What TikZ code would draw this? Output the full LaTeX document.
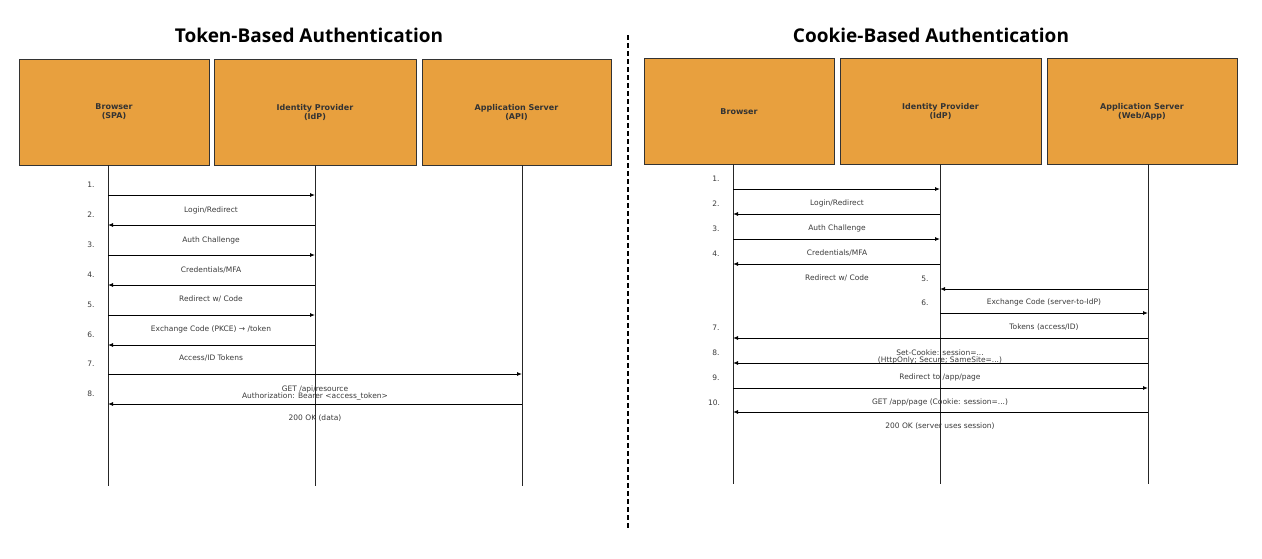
\documentclass[tikz,border=0pt]{standalone}
\usepackage{fontspec}
\setmainfont{DejaVu Sans}
\newfontfamily\titlefont{Open Sans}
\usetikzlibrary{arrows.meta}
\definecolor{box}{HTML}{E8A03E}
\definecolor{txt}{HTML}{3A3A3A}
\tikzset{
 actor/.style={draw=black!80,line width=0.8pt,fill=box,minimum width=190pt,minimum height=106pt,inner sep=0pt,align=center,font=\fontsize{8}{9}\selectfont\bfseries,text=black!80},
 life/.style={line width=0.7pt,black!85},
 msg/.style={line width=0.9pt,-{Latex[length=5pt,width=4pt]}},
 lbl/.style={font=\fontsize{7.5}{8}\selectfont,text=txt,inner sep=0pt,align=center},
 ttl/.style={font=\titlefont\fontsize{19}{22}\selectfont\bfseries}
}
\begin{document}
\begin{tikzpicture}[x=1pt,y=-1pt]
\useasboundingbox (0,0) rectangle (1262,558);
\node[ttl] (t1) at (309,35) {Token-Based Authentication};
\node[ttl] (t2) at (931,35) {Cookie-Based Authentication};
\coordinate (d1) at (628,35); \coordinate (d2) at (628,528);
\draw[dashed,line width=1.2pt,dash pattern=on 5pt off 3pt] (d1) -- (d2);
% left
\node[actor,minimum width=190pt] (lb) at (114,112) {Browser\\(SPA)};
\node[actor,minimum width=202pt] (li) at (315,112) {Identity Provider\\(IdP)};
\node[actor,minimum width=189pt] (la) at (516.5,112) {Application Server\\(API)};
\coordinate (lbe) at (108,486); \coordinate (lie) at (315,486); \coordinate (lae) at (522,486);
\coordinate (lbs) at (108,165); \coordinate (lis) at (315,165); \coordinate (las) at (522,165);
\draw[life] (lbs)--(lbe); \draw[life] (lis)--(lie); \draw[life] (las)--(lae);
\foreach \i/\y/\d in {1/195/r,2/225/l,3/255/r,4/285/l,5/315/r,6/345/l}{
 \node[lbl] (ln\i) at (91,\y-10) {\i.};
 \coordinate (la\i) at (108,\y); \coordinate (lc\i) at (315,\y);
 \if r\d \draw[msg] (la\i) -- (lc\i); \else \draw[msg] (lc\i) -- (la\i); \fi
}
\node[lbl] (ln7) at (91,364) {7.}; \node[lbl] (ln8) at (91,394) {8.};
\coordinate (l7a) at (108,374); \coordinate (l7b) at (522,374); \draw[msg] (l7a) -- (l7b);
\coordinate (l8a) at (108,404); \coordinate (l8b) at (522,404); \draw[msg] (l8b) -- (l8a);
\node[lbl] (ll2) at (211,210) {Login/Redirect};
\node[lbl] (ll3) at (211,240) {Auth Challenge};
\node[lbl] (ll4) at (211,270) {Credentials/MFA};
\node[lbl] (ll5) at (211,299) {Redirect w/ Code};
\node[lbl] (ll6) at (211,329) {Exchange Code (PKCE) → /token};
\node[lbl] (ll7) at (211,358) {Access/ID Tokens};
\node[lbl] (ll8) at (315,393) {GET /api/resource\\[-1pt]Authorization: Bearer <access\_token>};
\node[lbl] (ll9) at (315,418) {200 OK (data)};
% right
\node[actor,minimum width=190pt] (rb) at (739,111.5) {Browser};
\node[actor,minimum width=201pt] (ri) at (940.5,111.5) {Identity Provider\\(IdP)};
\node[actor,minimum width=190pt] (ra) at (1142,111.5) {Application Server\\(Web/App)};
\coordinate (rbs) at (733,164); \coordinate (ris) at (940,164); \coordinate (ras) at (1148,164);
\coordinate (rbe) at (733,484); \coordinate (rie) at (940,484); \coordinate (rae) at (1148,484);
\draw[life] (rbs)--(rbe); \draw[life] (ris)--(rie); \draw[life] (ras)--(rae);
\foreach \i/\y/\d in {1/189/r,2/214/l,3/239/r,4/264/l}{
 \node[lbl] (rn\i) at (716,\y-10) {\i.};
 \coordinate (ra\i) at (733,\y); \coordinate (rc\i) at (940,\y);
 \if r\d \draw[msg] (ra\i) -- (rc\i); \else \draw[msg] (rc\i) -- (ra\i); \fi
}
\node[lbl] (rl2) at (837,203) {Login/Redirect};
\node[lbl] (rl3) at (837,228) {Auth Challenge};
\node[lbl] (rl4) at (837,253) {Credentials/MFA};
\node[lbl] (rl5) at (837,278) {Redirect w/ Code};
\node[lbl] (rn5) at (925,279) {5.};
\coordinate (r5a) at (1148,289); \coordinate (r5b) at (940,289); \draw[msg] (r5a) -- (r5b);
\node[lbl] (rn6) at (925,303) {6.};
\node[lbl] (rl6) at (1044,302) {Exchange Code (server-to-IdP)};
\coordinate (r6a) at (940,313); \coordinate (r6b) at (1148,313); \draw[msg] (r6a) -- (r6b);
\node[lbl] (rn7) at (716,328) {7.};
\node[lbl] (rl7) at (1044,327) {Tokens (access/ID)};
\coordinate (r7a) at (1148,338); \coordinate (r7b) at (733,338); \draw[msg] (r7a) -- (r7b);
\node[lbl] (rn8) at (716,353) {8.};
\node[lbl] (rl8) at (940,357) {Set-Cookie: session=...\\[-1pt](HttpOnly; Secure; SameSite=...)};
\coordinate (r8a) at (1148,363); \coordinate (r8b) at (733,363); \draw[msg] (r8a) -- (r8b);
\node[lbl] (rn9) at (716,378) {9.};
\node[lbl] (rl9) at (940,377) {Redirect to /app/page};
\coordinate (r9a) at (733,388); \coordinate (r9b) at (1148,388); \draw[msg] (r9a) -- (r9b);
\node[lbl] (rn10) at (714,403) {10.};
\node[lbl] (rl10) at (940,402) {GET /app/page (Cookie: session=...)};
\coordinate (r10a) at (1148,412); \coordinate (r10b) at (733,412); \draw[msg] (r10a) -- (r10b);
\node[lbl] (rl11) at (940,426) {200 OK (server uses session)};
\end{tikzpicture}
\end{document}
